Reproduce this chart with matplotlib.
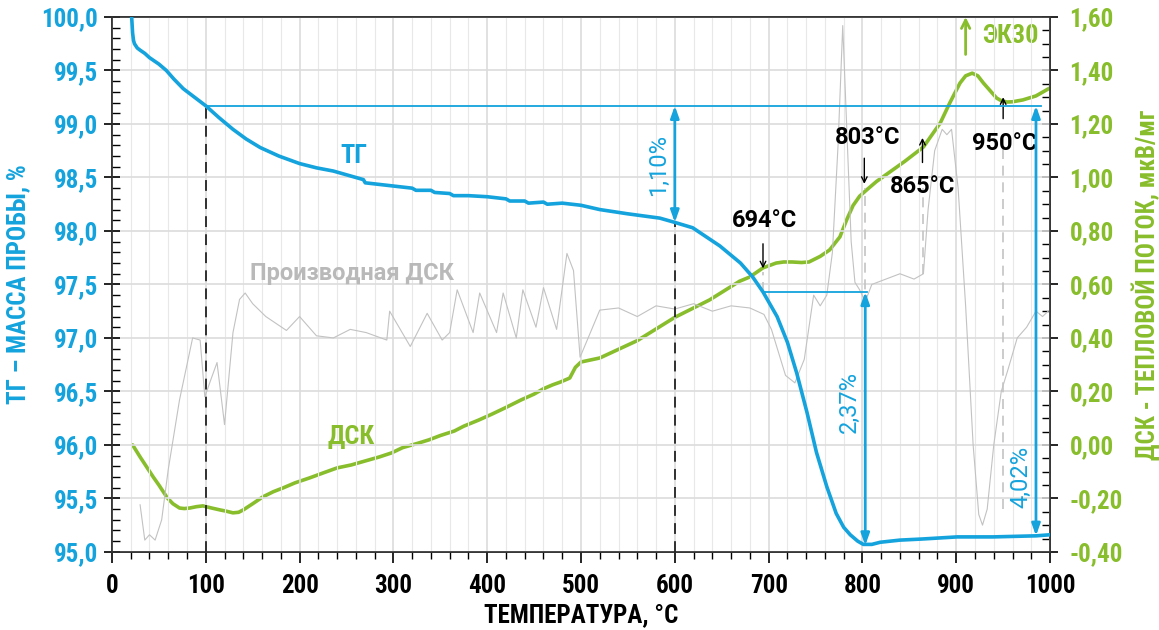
import matplotlib
matplotlib.use('Agg')
import matplotlib.pyplot as plt
from matplotlib.ticker import MultipleLocator, FuncFormatter

# ТГ — масса пробы, %
tg_T = [21, 22, 23, 24, 27, 30, 35, 40, 50, 58, 66, 76, 88, 100, 114, 129, 143, 158, 178, 200, 218, 236,
        252, 268, 270, 300, 320, 324, 340, 344, 360, 364, 380, 400, 420, 424, 440, 444, 460, 464, 480,
        500, 510, 520, 550, 584, 600, 619, 648, 670, 683, 694, 709, 720, 730, 741, 751, 762, 772, 780,
        787, 795, 801, 810, 819, 840, 863, 901, 939, 985, 1000]
tg_v = [100.0, 99.85, 99.78, 99.75, 99.71, 99.69, 99.66, 99.62, 99.56, 99.50, 99.42, 99.33, 99.25, 99.17,
        99.06, 98.95, 98.86, 98.78, 98.70, 98.63, 98.59, 98.56, 98.52, 98.48, 98.45, 98.42, 98.40, 98.38,
        98.38, 98.36, 98.35, 98.33, 98.33, 98.32, 98.30, 98.28, 98.28, 98.26, 98.27, 98.25, 98.26, 98.24,
        98.22, 98.20, 98.16, 98.12, 98.08, 98.03, 97.86, 97.70, 97.57, 97.43, 97.20, 96.96, 96.67, 96.30,
        95.93, 95.61, 95.36, 95.23, 95.16, 95.10, 95.07, 95.07, 95.09, 95.11, 95.12, 95.14, 95.14, 95.15,
        95.16]

# ДСК — тепловой поток, мкВ/мг
dsc_T = [22, 30, 44, 50, 59, 65, 72, 77, 83, 90, 97, 105, 115, 122, 129, 135, 140, 150, 161, 172, 183,
         195, 211, 225, 240, 255, 270, 285, 298, 310, 325, 338, 350, 365, 375, 391, 405, 420, 436, 450,
         460, 470, 478, 488, 494, 500, 520, 560, 600, 637, 669, 680, 694, 708, 716, 725, 735, 743, 755,
         765, 776, 783, 790, 797, 805, 815, 829, 845, 865, 883, 893, 904, 910, 917, 923, 929, 936, 943,
         948, 954, 960, 971, 985, 1000]
dsc_v = [0.00, -0.045, -0.12, -0.15, -0.198, -0.22, -0.236, -0.238, -0.236, -0.231, -0.228, -0.235,
         -0.243, -0.248, -0.254, -0.252, -0.243, -0.22, -0.194, -0.175, -0.16, -0.142, -0.123, -0.105,
         -0.086, -0.075, -0.06, -0.045, -0.03, -0.01, 0.005, 0.019, 0.035, 0.052, 0.07, 0.093, 0.115, 0.14,
         0.168, 0.19, 0.21, 0.225, 0.235, 0.25, 0.29, 0.31, 0.325, 0.39, 0.477, 0.542, 0.612, 0.628, 0.662,
         0.68, 0.684, 0.684, 0.682, 0.684, 0.705, 0.729, 0.778, 0.84, 0.895, 0.93, 0.955, 0.985, 1.02, 1.06,
         1.114, 1.204, 1.278, 1.353, 1.38, 1.39, 1.38, 1.353, 1.325, 1.297, 1.287, 1.282, 1.283, 1.29, 1.305,
         1.335]

# Производная ДСК (в единицах левой оси)
der_T = [30, 35, 40, 46, 53, 60, 72, 86, 94, 99, 105, 112, 120, 129, 136, 142, 150, 164, 186, 200, 218,
         236, 254, 271, 293, 296, 318, 336, 352, 360, 368, 385, 392, 410, 417, 431, 438, 452, 460, 474,
         485, 492, 499, 510, 520, 540, 560, 580, 600, 620, 640, 660, 680, 695, 703, 718, 728, 738, 748,
         755, 762, 768, 774, 779, 784, 788, 792, 797, 803, 810, 825, 840, 855, 865, 870, 877, 885, 890,
         895, 902, 910, 918, 924, 928, 933, 940, 948, 955, 965, 975, 985, 992, 998]
der_v = [95.44, 95.11, 95.16, 95.11, 95.30, 95.77, 96.42, 97.00, 96.98, 96.45, 96.60, 96.77, 96.19, 97.05,
         97.36, 97.42, 97.32, 97.20, 97.07, 97.20, 97.02, 97.00, 97.08, 97.05, 96.98, 97.25, 96.92, 97.23,
         96.98, 97.05, 97.45, 97.05, 97.42, 97.05, 97.42, 97.00, 97.45, 97.10, 97.47, 97.08, 97.79, 97.63,
         96.82, 97.05, 97.26, 97.28, 97.20, 97.30, 97.27, 97.32, 97.25, 97.30, 97.28, 97.22, 97.08, 96.65,
         96.58, 96.80, 97.40, 97.30, 97.40, 97.80, 98.80, 99.92, 98.80, 97.90, 97.52, 97.45, 97.34, 97.50,
         97.55, 97.60, 97.55, 97.60, 98.20, 98.75, 98.95, 98.90, 98.95, 98.40, 97.30, 96.00, 95.35, 95.25,
         95.40, 96.00, 96.50, 96.70, 97.00, 97.10, 97.25, 97.20, 97.25]

BLUE = '#14a3dd'
GREEN = '#88bd2c'
GRAY = '#c2c2c2'

plt.rcParams['font.family'] = ['Roboto Condensed', 'Liberation Sans Narrow', 'DejaVu Sans']
plt.rcParams['font.stretch'] = 'condensed'
plt.rcParams['font.weight'] = 'bold'
plt.rcParams['axes.labelweight'] = 'bold'

fig = plt.figure(figsize=(11.59, 6.30), dpi=100)
ax = fig.add_axes([0.0966, 0.124, 0.8094, 0.849])
ax2 = ax.twinx()

ax.set_xlim(0, 1000)
ax.set_ylim(95.0, 100.0)
ax2.set_ylim(-0.40, 1.60)

ax.xaxis.set_major_locator(MultipleLocator(100))
ax.xaxis.set_minor_locator(MultipleLocator(20))
ax.yaxis.set_major_locator(MultipleLocator(0.5))
ax.yaxis.set_minor_locator(MultipleLocator(0.1))
ax2.yaxis.set_major_locator(MultipleLocator(0.2))
ax2.yaxis.set_minor_locator(MultipleLocator(0.05))

comma1 = FuncFormatter(lambda v, p: f'{v:.1f}'.replace('.', ','))
comma2 = FuncFormatter(lambda v, p: f'{v:.2f}'.replace('.', ','))
ax.yaxis.set_major_formatter(comma1)
ax2.yaxis.set_major_formatter(comma2)

ax.grid(True, which='major', color='#dcdcdc', linewidth=1.2, zorder=0)
ax.grid(True, which='minor', axis='x', color='#e8e8e8', linewidth=0.8, zorder=0)

ax.tick_params(axis='x', which='major', direction='out', length=8, width=1.2, labelsize=18, pad=8)
ax.tick_params(axis='x', which='minor', direction='out', length=5, width=1)
ax.tick_params(axis='y', which='major', direction='inout', length=12, width=1.2, labelsize=18,
               labelcolor=BLUE, pad=4)
ax.tick_params(axis='y', which='minor', direction='in', length=6, width=1)
ax2.tick_params(axis='y', which='major', direction='inout', length=12, width=1.2, labelsize=18,
                labelcolor=GREEN, pad=8)
ax2.tick_params(axis='y', which='minor', direction='in', length=6, width=1)

for a in (ax, ax2):
    for s in a.spines.values():
        s.set_color('#333333')
        s.set_linewidth(1.2)

# Кривые
ax.plot(der_T, der_v, color=GRAY, linewidth=0.8, zorder=2)
ax.plot(tg_T, tg_v, color=BLUE, linewidth=2.6, zorder=5, solid_capstyle='round')
ax2.plot(dsc_T, dsc_v, color=GREEN, linewidth=2.6, zorder=5, solid_capstyle='round')
ax.set_zorder(ax2.get_zorder() + 1)
ax.patch.set_visible(False)

# Вертикальные пунктиры
ax.plot([100, 100], [95.0, 99.17], color='#222222', linestyle=(0, (6, 4)), linewidth=1.3, zorder=3)
ax.plot([600, 600], [95.0, 98.08], color='#222222', linestyle=(0, (6, 4)), linewidth=1.3, zorder=3)
for t, y0, y1 in [(694, 97.43, 97.62), (803, 97.3, 98.4), (865, 97.6, 98.4), (950, 95.4, 98.8)]:
    ax.plot([t, t], [y0, y1], color='#c4c4c4', linestyle=(0, (6, 4)), linewidth=1.2, zorder=3)

# Уровни и стрелки потерь массы
ax.plot([100, 990], [99.17, 99.17], color=BLUE, linewidth=1.3, zorder=4)
ax.plot([694, 805], [97.43, 97.43], color=BLUE, linewidth=1.3, zorder=4)
arrow = dict(arrowstyle='<|-|>,head_length=0.7,head_width=0.25', color=BLUE, linewidth=2, shrinkA=0, shrinkB=0)
ax.annotate('', xy=(600, 98.08), xytext=(600, 99.17), arrowprops=arrow, zorder=6)
ax.annotate('', xy=(803, 95.06), xytext=(803, 97.43), arrowprops=arrow, zorder=6)
ax.annotate('', xy=(985, 95.15), xytext=(985, 99.17), arrowprops=arrow, zorder=6)
pct = dict(color=BLUE, rotation=90, fontsize=17, fontweight='normal', fontstretch='normal',
           ha='center', va='center', family=['Roboto', 'DejaVu Sans'])
ax.text(583, 98.62, '1,10%', **pct)
ax.text(786, 96.4, '2,37%', **pct)
ax.text(969, 95.7, '4,02%', **pct)

# Подписи кривых
ax.text(258, 98.7, 'ТГ', color=BLUE, fontsize=19, ha='center', va='center')
ax.text(255, 96.07, 'ДСК', color=GREEN, fontsize=19, ha='center', va='center')
ax.text(256, 97.6, 'Производная ДСК', color='#b9b9b9', fontsize=17, ha='center', va='center',
        family=['Roboto', 'DejaVu Sans'], fontstretch='normal')

# Температуры пиков
lab = dict(fontsize=17, ha='center', va='center', family=['Roboto', 'DejaVu Sans'], fontstretch='normal')
small = dict(arrowstyle='->', color='black', linewidth=1, shrinkA=0, shrinkB=0)
ax.text(696, 98.1, '694°C', **lab)
ax.annotate('', xy=(694, 97.65), xytext=(694, 97.88), arrowprops=small)
ax.text(805, 98.87, '803°C', **lab)
ax.annotate('', xy=(802, 98.44), xytext=(802, 98.68), arrowprops=small)
ax.text(864, 98.42, '865°C', **lab)
ax.annotate('', xy=(864, 98.87), xytext=(864, 98.64), arrowprops=small)
ax.text(952, 98.82, '950°C', **lab)
ax.annotate('', xy=(950, 99.25), xytext=(950, 99.05), arrowprops=small)

# ЭК30
ax2.annotate('', xy=(910, 1.60), xytext=(910, 1.46),
             arrowprops=dict(arrowstyle='->,head_length=0.6,head_width=0.3', color=GREEN, linewidth=2,
                             shrinkA=0, shrinkB=0))
ax2.text(958, 1.53, 'ЭК30', color=GREEN, fontsize=19, ha='center', va='center')

ax.set_xlabel('ТЕМПЕРАТУРА, °С', fontsize=18, labelpad=4)
ax.set_ylabel('ТГ – МАССА ПРОБЫ, %', color=BLUE, fontsize=18)
ax2.set_ylabel('ДСК - ТЕПЛОВОЙ ПОТОК, мкВ/мг', color=GREEN, fontsize=18)
ax.yaxis.set_label_coords(-0.087, 0.5)
ax2.yaxis.set_label_coords(1.087, 0.5)

fig.savefig('out.png', dpi=100)
